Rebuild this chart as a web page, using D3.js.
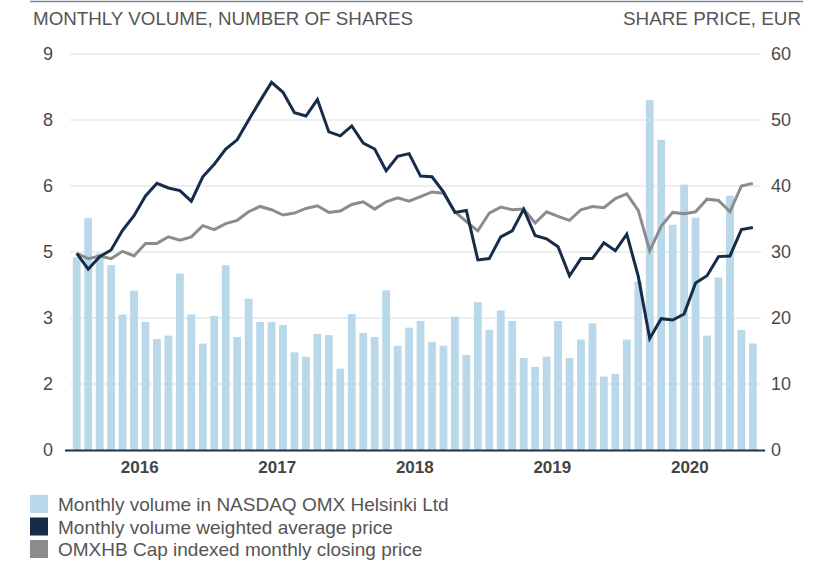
<!DOCTYPE html>
<html>
<head>
<meta charset="utf-8">
<script src="https://cdn.jsdelivr.net/npm/d3@7"></script>
<style>
  html, body { margin: 0; padding: 0; background: #fff; overflow: hidden; }
  svg { display: block; }
  text { font-family: "Liberation Sans", Arial, sans-serif; }
</style>
</head>
<body>
<div id="chart"></div>
<script>
var width = 820
var height = 567

// months Jan 2016 .. Dec 2020
const months = d3.range(60).map(i => new Date(2016, i, 1));
const years = [2016, 2017, 2018, 2019, 2020];

// monthly volume, millions of shares (left axis)
const volume = [
  4.38, 5.27, 4.47, 4.20, 3.08, 3.62, 2.91, 2.52, 2.60, 4.01, 3.08, 2.42,
  3.05, 4.20, 2.57, 3.44, 2.91, 2.91, 2.84, 2.22, 2.12, 2.64, 2.61, 1.85,
  3.09, 2.66, 2.57, 3.63, 2.37, 2.78, 2.93, 2.46, 2.37, 3.03, 2.16, 3.36,
  2.73, 3.17, 2.93, 2.09, 1.89, 2.12, 2.93, 2.09, 2.51, 2.88, 1.67, 1.73,
  2.51, 3.83, 7.95, 7.05, 5.12, 6.03, 5.28, 2.60, 3.92, 5.78, 2.73, 2.42
];

// volume weighted average price, EUR (right axis)
const vwap = [
  29.8, 27.4, 29.3, 30.3, 33.3, 35.5, 38.5, 40.4, 39.7, 39.3, 37.7, 41.4,
  43.3, 45.6, 47.0, 50.0, 52.9, 55.7, 54.2, 51.1, 50.6, 53.1, 48.2, 47.6,
  49.1, 46.5, 45.6, 42.3, 44.5, 44.9, 41.5, 41.4, 39.1, 36.0, 36.3, 28.8,
  29.0, 32.3, 33.2, 36.5, 32.5, 32.0, 30.8, 26.4, 29.0, 29.0, 31.4, 30.2,
  32.7, 26.3, 16.9, 19.9, 19.7, 20.6, 25.3, 26.4, 29.3, 29.4, 33.4, 33.7
];

// OMXHB Cap indexed monthly closing price (right axis)
const omxhb = [
  29.8, 29.0, 29.4, 29.0, 30.1, 29.4, 31.3, 31.3, 32.3, 31.8, 32.3, 34.0,
  33.4, 34.3, 34.8, 36.1, 36.9, 36.4, 35.6, 35.9, 36.6, 37.0, 36.0, 36.2,
  37.2, 37.6, 36.5, 37.6, 38.2, 37.7, 38.4, 39.1, 38.9, 36.1, 34.6, 33.2,
  35.9, 36.8, 36.4, 36.5, 34.4, 36.1, 35.4, 34.8, 36.4, 36.9, 36.7, 38.1,
  38.8, 36.3, 30.2, 33.9, 36.0, 35.8, 36.1, 38.0, 37.8, 36.1, 40.0, 40.4
];

const leftTicks = [0, 1.5, 3, 4.5, 6, 7.5, 9];
const rightTicks = [0, 10, 20, 30, 40, 50, 60];

const legendItems = [
  {label: "Monthly volume in NASDAQ OMX Helsinki Ltd", color: "#b9d8ea"},
  {label: "Monthly volume weighted average price", color: "#162c48"},
  {label: "OMXHB Cap indexed monthly closing price", color: "#8c8c8c"}
];

const svg = d3.select("#chart").append("svg")
    .attr("width", width)
    .attr("height", height)

const margin = {top: 54, right: 62, bottom: 117, left: 71}
const innerWidth = width - margin.left - margin.right;
const innerHeight = height - margin.top - margin.bottom;

const xScale = d3.scaleBand()
    .domain(d3.range(months.length))
    .range([0, 687.6])
    .paddingInner(0.32)
    .paddingOuter(0.16);

const xCenter = i => xScale(i) + xScale.bandwidth() / 2;

const yLeft = d3.scaleLinear().domain([0, 9]).range([innerHeight, 0]);
const yRight = d3.scaleLinear().domain([0, 60]).range([innerHeight, 0]);

const g = svg.append("g")
    .attr("transform", `translate(${margin.left}, ${margin.top})`)

// top rule + headers
svg.append("line")
    .attr("x1", 30).attr("x2", 803).attr("y1", 1.5).attr("y2", 1.5)
    .attr("stroke", "#7d8896").attr("stroke-width", 1.5);

svg.append("text")
    .attr("x", 33).attr("y", 25)
    .attr("fill", "#555")
    .attr("font-size", 18)
    .attr("textLength", 380)
    .attr("lengthAdjust", "spacingAndGlyphs")
    .text("MONTHLY VOLUME, NUMBER OF SHARES");

svg.append("text")
    .attr("x", 801).attr("y", 25)
    .attr("text-anchor", "end")
    .attr("fill", "#555")
    .attr("font-size", 18)
    .attr("textLength", 178)
    .attr("lengthAdjust", "spacingAndGlyphs")
    .text("SHARE PRICE, EUR");

// gridlines
g.append("g").selectAll("line")
    .data(rightTicks.slice(1))
    .join("line")
    .attr("x1", -1).attr("x2", 690)
    .attr("y1", d => yRight(d)).attr("y2", d => yRight(d))
    .attr("stroke", "#e3ebeb").attr("stroke-width", 1.5);

// bars
g.append("g").selectAll("rect")
    .data(volume)
    .join("rect")
    .attr("x", (d, i) => xScale(i))
    .attr("width", xScale.bandwidth())
    .attr("y", d => yLeft(d))
    .attr("height", d => innerHeight - yLeft(d))
    .attr("fill", "#b9d8ea");

// lines
const lineRight = d3.line()
    .x((d, i) => xCenter(i))
    .y(d => yRight(d));

g.append("path")
    .attr("d", lineRight(omxhb))
    .attr("fill", "none")
    .attr("stroke", "#8c8c8c")
    .attr("stroke-width", 3)
    .attr("stroke-linejoin", "miter");

g.append("path")
    .attr("d", lineRight(vwap))
    .attr("fill", "none")
    .attr("stroke", "#162c48")
    .attr("stroke-width", 3)
    .attr("stroke-linejoin", "miter");

// axes
const yAxisL = d3.axisLeft(yLeft)
    .tickValues(leftTicks)
    .tickFormat(d3.format(".0f"))
    .tickSize(0)
    .tickPadding(18);

const yAxisR = d3.axisRight(yRight)
    .tickValues(rightTicks)
    .tickSize(0)
    .tickPadding(15);

const yAxisLG = g.append("g").call(yAxisL);
const yAxisRG = g.append("g")
    .attr("transform", `translate(${innerWidth - 2},0)`)
    .call(yAxisR);

[yAxisLG, yAxisRG].forEach(a => {
  a.select(".domain").remove();
  a.selectAll("text")
    .attr("font-size", 18)
    .attr("fill", "#4a4a4a")
    .attr("font-family", "Liberation Sans, Arial, sans-serif");
});

// baseline
g.append("line")
    .attr("x1", -6).attr("x2", 694)
    .attr("y1", innerHeight + 0.5).attr("y2", innerHeight + 0.5)
    .attr("stroke", "#1f3147").attr("stroke-width", 2);

// year labels, centred on each year's months
g.append("g").selectAll("text")
    .data(years)
    .join("text")
    .attr("x", (d, k) => (xCenter(k * 12) + xCenter(k * 12 + 11)) / 2)
    .attr("y", innerHeight + 23)
    .attr("text-anchor", "middle")
    .attr("font-size", 17)
    .attr("font-weight", "bold")
    .attr("fill", "#444")
    .text(d => d);

// legend
const legend = svg.append("g").attr("transform", "translate(30, 495)");
const li = legend.selectAll("g")
    .data(legendItems)
    .join("g")
    .attr("transform", (d, i) => `translate(0, ${i * 22.5})`);

li.append("rect")
    .attr("width", 18).attr("height", 18)
    .attr("fill", d => d.color);

li.append("text")
    .attr("x", 28).attr("y", 16)
    .attr("font-size", 19)
    .attr("fill", "#555")
    .text(d => d.label);
</script>
</body>
</html>
